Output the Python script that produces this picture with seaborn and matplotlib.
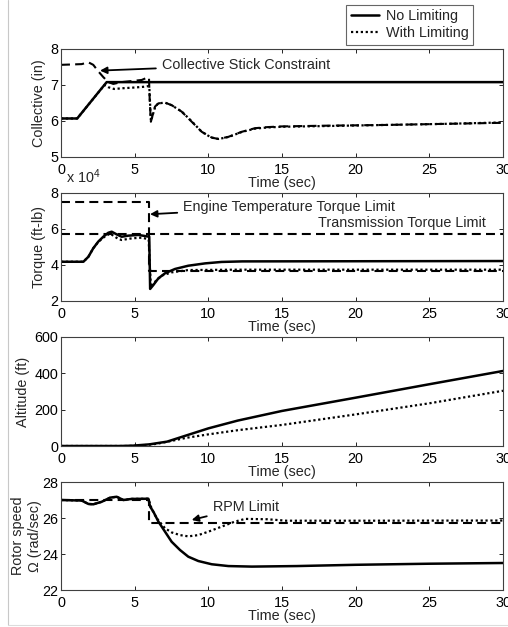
import numpy as np
import pandas as pd
import matplotlib
matplotlib.use("Agg")
import matplotlib.pyplot as plt
from matplotlib.lines import Line2D
import seaborn as sns

sns.set_theme(style="white")
plt.rcParams['font.family'] = ['Liberation Sans', 'DejaVu Sans']
plt.rcParams['mathtext.default'] = 'regular'

# ---------------- data ----------------
# Panel 1: collective (in)
coll_nolim_t = [0, 1.1, 3.1, 30]
coll_nolim_v = [6.07, 6.07, 7.08, 7.08]

coll_lim_t = [0, 1.1, 2.95, 3.2, 3.6, 4.2, 5.0, 5.6, 5.95, 6.0, 6.1, 6.4, 6.6, 7.06, 7.5, 8.2, 8.9,
              9.55, 10.2, 10.7, 11.4, 12.3, 13.2, 14.0, 15.0, 18, 22, 26, 30]
coll_lim_v = [6.07, 6.07, 7.0, 6.94, 6.89, 6.91, 6.93, 6.95, 6.97, 6.9, 6.0, 6.4, 6.49, 6.51, 6.44,
              6.26, 5.98, 5.70, 5.54, 5.50, 5.56, 5.70, 5.79, 5.82, 5.84, 5.86, 5.89, 5.92, 5.96]

coll_con_t = [0, 1.4, 1.86, 2.19, 2.53, 2.87, 3.21, 3.55, 4.1, 4.8, 5.48, 5.82, 5.97, 6.02, 6.1,
              6.38, 6.61, 7.06, 7.51, 8.19, 8.87, 9.55, 10.23, 10.68, 11.36, 12.27, 13.17, 14.0,
              15.0, 18, 22, 26, 30]
coll_con_v = [7.56, 7.58, 7.63, 7.56, 7.38, 7.22, 7.08, 7.03, 7.08, 7.11, 7.14, 7.2, 7.21, 6.6, 5.98,
              6.40, 6.49, 6.51, 6.44, 6.26, 5.98, 5.70, 5.54, 5.50, 5.56, 5.70, 5.80, 5.83,
              5.85, 5.87, 5.89, 5.92, 5.95]

# Panel 2: torque (x 10^4 ft-lb)
torq_nolim_t = [0, 1.52, 1.86, 2.19, 2.53, 2.87, 3.21, 3.44, 3.78, 4.12, 4.57, 5.25, 5.7, 5.99,
                6.05, 6.27, 6.61, 7.06, 7.74, 8.64, 9.78, 10.9, 12.3, 30]
torq_nolim_v = [4.18, 4.18, 4.46, 4.93, 5.30, 5.57, 5.79, 5.85, 5.70, 5.57, 5.63, 5.67, 5.61, 5.57,
                2.67, 2.89, 3.26, 3.54, 3.78, 3.96, 4.09, 4.17, 4.20, 4.22]

torq_lim_t = [0, 1.52, 1.86, 2.19, 2.53, 2.87, 3.33, 3.9, 4.12, 4.8, 5.5, 5.95, 6.1, 6.38, 6.83,
              7.51, 8.64, 12, 30]
torq_lim_v = [4.18, 4.18, 4.46, 4.93, 5.28, 5.52, 5.75, 5.44, 5.39, 5.48, 5.52, 5.42, 2.78, 3.07,
              3.41, 3.59, 3.72, 3.74, 3.74]

engine_lim_t = [0, 6.0, 6.0, 30]
engine_lim_v = [7.5, 7.5, 3.67, 3.67]
trans_lim_t = [0, 30]
trans_lim_v = [5.7, 5.7]

# Panel 3: altitude (ft)
alt_nolim_t = [0, 4.0, 4.9, 6.0, 7.2, 8.5, 10, 12, 15, 20, 25, 30]
alt_nolim_v = [0, 0, 2, 9, 24, 58, 97, 140, 193, 266, 340, 413]
alt_lim_t = [0, 4.5, 5.5, 6.5, 7.5, 8.5, 10, 12, 15, 20, 25, 30]
alt_lim_v = [0, 0, 3, 12, 28, 45, 64, 87, 116, 174, 235, 304]

# Panel 4: rotor speed (rad/sec)
rpm_nolim_t = [0, 1.4, 1.86, 2.19, 2.76, 3.33, 3.78, 4.23, 4.8, 5.93, 6.05, 6.27, 6.61, 7.06, 7.51,
               8.08, 8.64, 9.32, 10.23, 11.36, 12.95, 16, 20, 25, 30]
rpm_nolim_v = [27.0, 26.97, 26.78, 26.76, 26.9, 27.13, 27.18, 27.0, 27.06, 27.07, 26.63, 26.35, 25.8,
               25.24, 24.68, 24.22, 23.85, 23.61, 23.43, 23.33, 23.30, 23.33, 23.40, 23.46, 23.50]
rpm_lim_t = [0, 1.4, 1.86, 2.19, 2.76, 3.33, 3.78, 4.23, 4.8, 5.93, 6.16, 6.5, 7.06, 7.51, 8.08,
             8.64, 9.32, 10.0, 10.9, 11.8, 12.5, 14.0, 15.3, 20.75, 30]
rpm_lim_v = [27.0, 26.97, 26.78, 26.76, 26.9, 27.13, 27.18, 27.0, 27.06, 27.07, 26.5, 25.98, 25.43,
             25.2, 25.05, 24.98, 25.05, 25.24, 25.52, 25.8, 25.95, 25.93, 25.85, 25.85, 25.86]
rpm_limit_t = [0, 6.0, 6.0, 30]
rpm_limit_v = [27.0, 27.0, 25.7, 25.7]

x_ticks = [0, 5, 10, 15, 20, 25, 30]
panels = [
    dict(ylabel="Collective (in)", ylim=(5, 8), yticks=[5, 6, 7, 8], lp=3),
    dict(ylabel="Torque (ft-lb)", ylim=(2, 8), yticks=[2, 4, 6, 8], lp=3),
    dict(ylabel="Altitude (ft)", ylim=(0, 600), yticks=[0, 200, 400, 600], lp=3),
    dict(ylabel="Rotor speed\n\u03a9 (rad/sec)", ylim=(22, 28), yticks=[22, 24, 26, 28], lp=0),
]
xlabel = "Time (sec)"

# ---------------- figure ----------------
W, H = 508, 627
fig = plt.figure(figsize=(W / 100, H / 100), dpi=100)
fig.patch.set_facecolor("white")

left = 61 / W
width = (503 - 61) / W
tops = [49, 193, 337, 482]
bots = [157, 301, 446, 590]
axes = []
for tp, bt in zip(tops, bots):
    ax = fig.add_axes([left, 1 - bt / H, width, (bt - tp) / H])
    axes.append(ax)

FS = 10.4
SOLID = dict(color="black", lw=1.8, linestyle="-")
DOT = dict(color="black", lw=1.6, linestyle=(0, (1, 1.2)))
DASH = dict(color="black", lw=1.5, linestyle=(0, (4.3, 2.5)))
ARROW = dict(arrowstyle="-|>", color="black", lw=1.3, mutation_scale=10, shrinkA=2, shrinkB=0)


def draw(ax, t, v, style):
    df = pd.DataFrame({"t": t, "v": v})
    sns.lineplot(data=df, x="t", y="v", ax=ax, sort=False, estimator=None, **style)


# panel 1
a = axes[0]
draw(a, coll_nolim_t, coll_nolim_v, SOLID)
draw(a, coll_con_t, coll_con_v, DASH)
draw(a, coll_lim_t, coll_lim_v, DOT)
a.annotate("Collective Stick Constraint", xy=(2.65, 7.4), xytext=(6.85, 7.56),
           fontsize=FS, va="center", ha="left", arrowprops=ARROW)

# panel 2
a = axes[1]
draw(a, trans_lim_t, trans_lim_v, DASH)
draw(a, engine_lim_t, engine_lim_v, DASH)
draw(a, torq_nolim_t, torq_nolim_v, SOLID)
draw(a, torq_lim_t, torq_lim_v, DOT)
a.annotate("Engine Temperature Torque Limit", xy=(6.04, 6.82), xytext=(8.3, 7.24),
           fontsize=FS, va="center", ha="left", arrowprops=ARROW)
a.text(17.45, 6.32, "Transmission Torque Limit", fontsize=FS, va="center", ha="left")
a.text(0.35, 8.92, "x 10$^4$", fontsize=FS, va="center", ha="left", clip_on=False)

# panel 3
a = axes[2]
draw(a, alt_nolim_t, alt_nolim_v, SOLID)
draw(a, alt_lim_t, alt_lim_v, DOT)

# panel 4
a = axes[3]
draw(a, rpm_limit_t, rpm_limit_v, DASH)
draw(a, rpm_nolim_t, rpm_nolim_v, SOLID)
draw(a, rpm_lim_t, rpm_lim_v, DOT)
a.annotate("RPM Limit", xy=(8.87, 25.89), xytext=(10.3, 26.63),
           fontsize=FS, va="center", ha="left", arrowprops=ARROW)

for ax, p in zip(axes, panels):
    ax.set_xlim(0, 30)
    ax.set_ylim(*p["ylim"])
    ax.set_xticks(x_ticks)
    ax.set_yticks(p["yticks"])
    ax.set_xticklabels([str(x) for x in x_ticks])
    ax.set_yticklabels([str(y) for y in p["yticks"]])
    ax.set_xlabel(xlabel, fontsize=FS, labelpad=-0.6)
    ax.set_ylabel(p["ylabel"], fontsize=FS, labelpad=p["lp"], linespacing=1.25)
    ax.tick_params(axis="both", direction="in", length=3, width=0.6, colors="black",
                   labelsize=FS, top=True, right=True, bottom=True, left=True)
    ax.tick_params(axis="x", pad=4.5)
    ax.tick_params(axis="y", pad=2)
    for s in ax.spines.values():
        s.set_visible(True)
        s.set_color("#404040")
        s.set_linewidth(0.8)
    ax.set_facecolor("white")
    ax.grid(False)
    if ax.get_legend() is not None:
        ax.get_legend().remove()

# legend
handles = [Line2D([], [], **SOLID), Line2D([], [], **DOT)]
leg = fig.legend(handles, ["No Limiting", "With Limiting"], loc="upper right",
                 bbox_to_anchor=(473 / W, 1 - 5 / H), fontsize=FS, frameon=True,
                 fancybox=False, shadow=False, handlelength=2.0, handletextpad=0.45,
                 borderpad=0.3, labelspacing=0.2, borderaxespad=0)
leg.get_frame().set_edgecolor("#404040")
leg.get_frame().set_linewidth(0.8)

# light outer border of the original figure window
fig.add_artist(Line2D([8 / W, 8 / W], [0.003, 1], transform=fig.transFigure,
                      color="#c8c8c8", lw=0.8))
fig.add_artist(Line2D([8 / W, 1], [1 - 625 / H] * 2, transform=fig.transFigure,
                      color="#dcdcdc", lw=0.8))

fig.savefig("out.png", dpi=100, facecolor="white")
